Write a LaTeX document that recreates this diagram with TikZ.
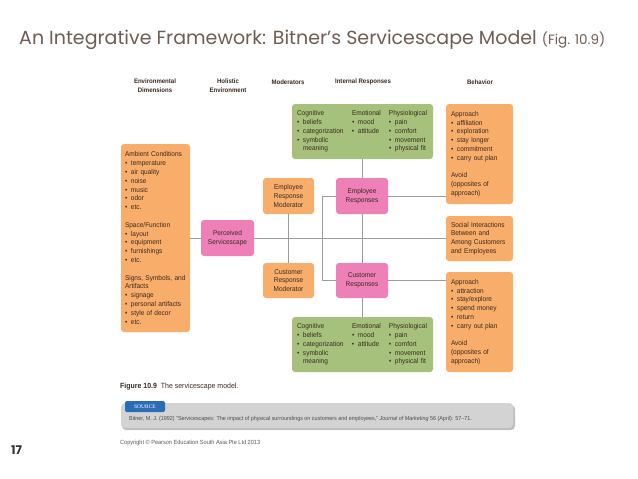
\documentclass[tikz,border=0pt]{standalone}
\usepackage{fontspec}
\setmainfont{Liberation Sans}
\newfontfamily\bx[FakeStretch=0.93]{Liberation Sans}
\newfontfamily\ttl{Poppins}
\newfontfamily\srcf{Liberation Serif}
\definecolor{orng}{HTML}{F9AD6A}
\definecolor{pnk}{HTML}{EE7FB7}
\definecolor{grn}{HTML}{A5C17B}
\definecolor{lne}{HTML}{9C9C9C}
\definecolor{txt}{HTML}{3A2A20}
\definecolor{ttlc}{HTML}{6D5D54}
\definecolor{srcg}{HTML}{D3D3D3}
\definecolor{srcb}{HTML}{2A6DB5}
\newcommand\bl{\makebox[6pt][l]{\textbullet}}
\newcommand\ind{\hspace*{6pt}}
\tikzset{
  boxbase/.style={rounded corners=3pt, inner ysep=0pt, text=txt,
    font=\bx\fontsize{7}{8.8}\selectfont},
  obox/.style={boxbase, fill=orng},
  pbox/.style={boxbase, fill=pnk, align=center},
  gbox/.style={boxbase, fill=grn, align=left},
  hdr/.style={font=\bx\bfseries\fontsize{6.5}{8.8}\selectfont, text=txt, align=center, inner sep=0pt},
  conn/.style={draw=lne, line width=0.8pt},
}
\begin{document}
\begin{tikzpicture}[x=1pt,y=-1pt]
\useasboundingbox (0,0) rectangle (638,479);
% title
\node[anchor=west, inner sep=0pt, text=ttlc] (title) at (19,40)
  {\ttl\fontsize{19}{22}\selectfont An Integrative Framework: Bitner’s Servicescape Model {\fontsize{13.5}{15}\selectfont (Fig. 10.9)}};
% headers
\node[hdr] (h1) at (155,86) {Environmental\\Dimensions};
\node[hdr] (h2) at (228,86) {Holistic\\Environment};
\node[hdr] (h3) at (288,82) {Moderators};
\node[hdr] (h4) at (363,82) {Internal Responses};
\node[hdr] (h5) at (480,82) {Behavior};
% boxes
\node[obox, minimum width=69pt, minimum height=188pt, text width=61pt, inner xsep=4pt, align=left] (env) at (155.5,238)
 {Ambient Conditions\\\bl temperature\\\bl air quality\\\bl noise\\\bl music\\\bl odor\\\bl etc.\\[8.8pt]
  Space/Function\\\bl layout\\\bl equipment\\\bl furnishings\\\bl etc.\\[8.8pt]
  Signs, Symbols, and\\Artifacts\\\bl signage\\\bl personal artifacts\\\bl style of decor\\\bl etc.};
\node[pbox, minimum width=53pt, minimum height=36pt] (ps) at (227.5,238) {Perceived\\Servicescape};
\node[obox, align=center, minimum width=51pt, minimum height=36pt] (erm) at (288.5,196) {Employee\\Response\\Moderator};
\node[obox, align=center, minimum width=51pt, minimum height=35pt] (crm) at (288.5,280.5) {Customer\\Response\\Moderator};
\node[pbox, minimum width=52pt, minimum height=36pt] (er) at (362,196) {Employee\\Responses};
\node[pbox, minimum width=52pt, minimum height=35pt] (cr) at (362,280.5) {Customer\\Responses};
\node[gbox, minimum width=141pt, minimum height=55pt, text width=131pt, inner xsep=5pt] (gtop) at (362.5,131.5)
 {\begin{tabular}{@{}p{55pt}@{}p{37pt}@{}l@{}}
  Cognitive & Emotional & Physiological\\
  \bl beliefs & \bl mood & \bl pain\\
  \bl categorization & \bl attitude & \bl comfort\\
  \bl symbolic & & \bl movement\\
  \ind meaning & & \bl physical fit
  \end{tabular}};
\node[gbox, minimum width=141pt, minimum height=55pt, text width=131pt, inner xsep=5pt] (gbot) at (362.5,344.5)
 {\begin{tabular}{@{}p{55pt}@{}p{37pt}@{}l@{}}
  Cognitive & Emotional & Physiological\\
  \bl beliefs & \bl mood & \bl pain\\
  \bl categorization & \bl attitude & \bl comfort\\
  \bl symbolic & & \bl movement\\
  \ind meaning & & \bl physical fit
  \end{tabular}};
\node[obox, minimum width=67pt, minimum height=100pt, text width=57pt, inner xsep=5pt, align=left] (btop) at (479.5,154)
 {Approach\\\bl affiliation\\\bl exploration\\\bl stay longer\\\bl commitment\\\bl carry out plan\\[8.8pt]
  Avoid\\(opposites of\\approach)};
\node[obox, minimum width=67pt, minimum height=45pt, text width=57pt, inner xsep=5pt, align=left] (soc) at (479.5,238.5)
 {Social Interactions\\Between and\\Among Customers\\and Employees};
\node[obox, minimum width=67pt, minimum height=100pt, text width=57pt, inner xsep=5pt, align=left] (bbot) at (479.5,322)
 {Approach\\\bl attraction\\\bl stay/explore\\\bl spend money\\\bl return\\\bl carry out plan\\[8.8pt]
  Avoid\\(opposites of\\approach)};
% connectors
\draw[conn] (env.east |- ps.west) -- (ps.west);
\draw[conn] (ps.east) -- (ps.east -| soc.west);
\draw[conn] (erm.south) -- (crm.north);
\draw[conn] (gtop.south -| er.north) -- (er.north);
\draw[conn] (er.south) -- (cr.north);
\draw[conn] (cr.south) -- (cr.south |- gbot.north);
\draw[conn] (er.west) -- ++(-13,0) |- (cr.west);
\draw[conn] (er.east) -- (er.east -| btop.west);
\draw[conn] (cr.east) -- (cr.east -| bbot.west);
% caption
\node[anchor=west, inner sep=0pt, text=txt, font=\bx\fontsize{7.5}{9}\selectfont] (cap) at (120,387)
  {\textbf{Figure 10.9}\ \ The servicescape model.};
% source bar
\fill[black!25, rounded corners=4pt] (122,405) rectangle (515,430);
\node[draw=none, fill=srcg, rounded corners=4pt, minimum width=392pt, minimum height=25pt, inner sep=0pt] (srcbar) at (317,415.5) {};
\node[fill=srcb, rounded corners=1.5pt, minimum width=40pt, minimum height=11pt, inner sep=0pt, text=white,
  font=\srcf\fontsize{5.5}{6}\selectfont] (srctab) at (145,406.5) {SOURCE};
\node[anchor=west, inner sep=0pt, text=black!70, font=\bx\fontsize{5.8}{7}\selectfont] (cite) at (129,419)
  {Bitner, M. J. (1992) “Servicescapes: The impact of physical surroundings on customers and employees,” \textit{Journal of Marketing} 56 (April): 57–71.};
% footer
\node[anchor=west, inner sep=0pt, text=black!65, font=\bx\fontsize{6}{7}\selectfont] (copy) at (120,443)
  {Copyright © Pearson Education South Asia Pte Ltd 2013};
\node[anchor=west, inner sep=0pt, text=black!80, font=\ttl\bfseries\fontsize{12}{13}\selectfont] (pg) at (11,450) {17};
\end{tikzpicture}
\end{document}
